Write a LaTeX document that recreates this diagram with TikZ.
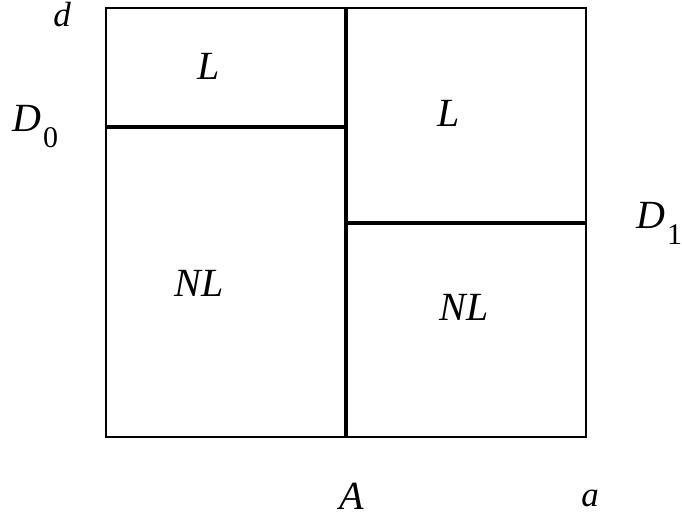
\documentclass[tikz,border=0pt]{standalone}
\usepackage{fontspec}
\setmainfont{Liberation Serif}
\tikzset{
  thin box/.style={line width=1.5pt},
  thick div/.style={line width=3.5pt},
  big/.style={font=\fontsize{40}{40}\selectfont\itshape, inner sep=0pt, anchor=base},
  small/.style={font=\fontsize{35}{35}\selectfont\itshape, inner sep=0pt, anchor=base},
}
\newcommand{\subnum}[1]{\kern2pt\raisebox{-16pt}{\upshape\fontsize{30}{30}\selectfont #1}}
\begin{document}
\begin{tikzpicture}[x=1pt,y=-1pt]
\useasboundingbox (0,0) rectangle (682,519);
\coordinate (tl) at (106,8);
\coordinate (br) at (586,437);
\coordinate (mt) at (346,8);
\coordinate (mb) at (346,437);
\coordinate (l0) at (106,127);
\coordinate (r0) at (346,127);
\coordinate (l1) at (346,223);
\coordinate (r1) at (586,223);
\draw[thin box] (tl) rectangle (br);
\draw[thick div] (mt) -- (mb);
\draw[thick div] (l0) -- (r0);
\draw[thick div] (l1) -- (r1);
\node[small] (d) at (62,27) {d};
\node[big, anchor=base west] (D0) at (12,131) {D\subnum{0}};
\node[big] (L1) at (209,79) {L};
\node[big] (L2) at (449,126) {L};
\node[big, anchor=base west] (D1) at (636,228) {D\subnum{1}};
\node[big] (NL1) at (199,296) {NL};
\node[big] (NL2) at (464,320) {NL};
\node[big] (A) at (352,509) {A};
\node[small] (a) at (590,506) {a};
\end{tikzpicture}
\end{document}
